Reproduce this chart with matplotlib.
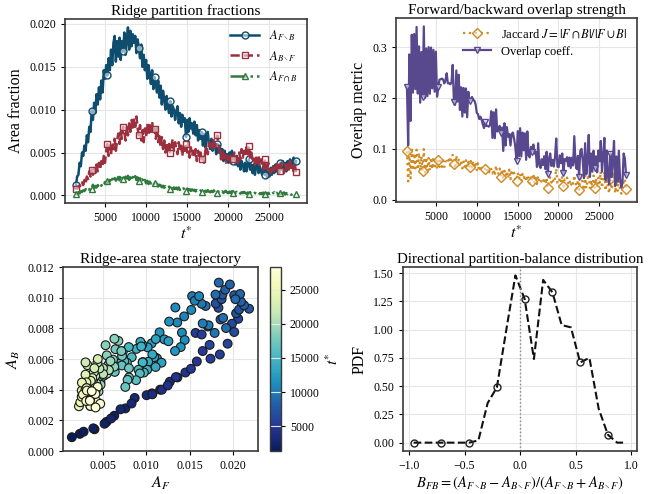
import numpy as np
import matplotlib
matplotlib.use("Agg")
import matplotlib.pyplot as plt
from matplotlib.ticker import FormatStrFormatter

plt.rcParams.update({
    "font.family": ["Liberation Serif", "DejaVu Serif"],
    "mathtext.fontset": "stix",
    "axes.edgecolor": "#3a3a3a",
    "axes.linewidth": 1.2,
    "axes.grid": True,
    "grid.color": "#e6e6e6",
    "grid.linewidth": 0.8,
    "xtick.labelsize": 8.5,
    "ytick.labelsize": 8.5,
    "xtick.major.size": 3,
    "ytick.major.size": 3,
    "axes.titlesize": 11,
    "axes.labelsize": 11.5,
})

# Simulation time window (dimensionless t*)
t_start, t_end, n_steps = 1400, 28300, 183

# Ridge partition areas, in units of 1e-4 (F\B, B\F) and 1e-5 (F∩B)
area_f_only = [
    12, 22, 24, 38, 34, 50, 46,
    58, 52, 70, 62, 80, 74, 99,
    88, 108, 96, 118, 106, 126, 112,
    134, 120, 146, 136, 152, 140, 160,
    146, 170, 152, 178, 186, 156, 180,
    162, 184, 158, 180, 168, 190, 164,
    182, 196, 170, 192, 174, 188, 178,
    186, 166, 182, 172, 160, 176, 150,
    164, 146, 158, 136, 152, 140, 130,
    146, 124, 138, 130, 120, 134, 114,
    128, 106, 122, 112, 100, 116, 104,
    96, 110, 92, 104, 100, 88, 98,
    104, 84, 96, 80, 94, 86, 90,
    68, 88, 74, 90, 78, 84, 72,
    86, 70, 82, 64, 76, 66, 74,
    58, 72, 56, 68, 74, 60, 54,
    66, 52, 62, 58, 48, 60, 50,
    58, 44, 54, 40, 52, 42, 48,
    38, 50, 42, 52, 40, 46, 36,
    46, 34, 42, 30, 40, 36, 28,
    38, 28, 36, 42, 30, 36, 26,
    36, 24, 34, 38, 26, 34, 28,
    24, 34, 24, 30, 21, 28, 22,
    32, 24, 34, 26, 36, 28, 35,
    26, 38, 30, 40, 32, 38, 28,
    40, 32, 42, 34, 40, 44, 34, 40,
]
area_b_only = [
    7, 10, 9, 12, 10, 15, 12,
    18, 14, 22, 19, 28, 22, 30,
    24, 32, 26, 36, 28, 38, 30,
    40, 34, 46, 38, 52, 60, 46,
    58, 48, 62, 54, 66, 52, 64,
    72, 60, 74, 66, 80, 75, 64,
    82, 70, 84, 74, 88, 76, 90,
    80, 92, 78, 70, 82, 64, 76,
    62, 78, 68, 84, 70, 82, 74,
    86, 72, 78, 66, 80, 62, 72,
    56, 68, 54, 64, 50, 62, 52,
    60, 50, 58, 66, 52, 62, 54,
    48, 62, 52, 58, 46, 60, 52,
    60, 50, 62, 44, 56, 46, 52,
    44, 54, 40, 52, 44, 50, 42,
    46, 38, 52, 58, 48, 62, 54,
    60, 52, 66, 56, 64, 70, 58,
    50, 42, 54, 40, 48, 38, 46,
    40, 46, 36, 48, 42, 50, 40,
    46, 38, 50, 42, 54, 44, 52,
    46, 56, 48, 58, 44, 50, 42,
    46, 36, 44, 38, 46, 34, 42,
    38, 30, 43, 34, 28, 38, 30,
    26, 34, 28, 36, 30, 38, 32,
    36, 28, 38, 30, 26, 36, 30,
    38, 30, 40, 32, 36, 28, 36, 27,
]
area_both = [
    20, 12, 36, 22, 48, 40, 58,
    50, 72, 58, 82, 66, 90, 76,
    124, 80, 110, 92, 120, 100, 128,
    112, 142, 124, 156, 132, 170, 142,
    180, 150, 192, 160, 202, 172, 190,
    214, 176, 222, 238, 190, 172, 218,
    196, 228, 180, 210, 172, 214, 186,
    224, 178, 210, 168, 200, 162, 186,
    150, 180, 140, 170, 132, 160, 138,
    150, 118, 140, 112, 136, 104, 124,
    118, 94, 112, 88, 108, 96, 84,
    102, 76, 96, 70, 92, 74, 90,
    68, 92, 62, 86, 70, 82, 60,
    50, 78, 58, 72, 52, 70, 56,
    66, 46, 62, 50, 40, 58, 44,
    56, 38, 54, 40, 60, 44, 36,
    52, 38, 58, 36, 50, 32, 44,
    50, 30, 46, 28, 44, 52, 32,
    26, 44, 28, 48, 22, 40, 30,
    42, 24, 38, 20, 36, 26, 40,
    30, 18, 34, 20, 32, 40, 22,
    16, 30, 18, 32, 38, 16, 28,
    14, 32, 16, 28, 12, 30, 18,
    34, 14, 26, 36, 12, 30, 16,
    8, 28, 14, 24, 34, 10, 26,
    14, 32, 18, 8, 12, 28, 30, 14,
]

# Histogram density of the partition balance B_FB (24 bins on [-1, 1])
balance_bin_edges = np.linspace(-1.0, 1.0, 25)
balance_pdf = [
    0.0, 0.0, 0.0, 0.0, 0.0, 0.0, 0.0, 0.02,
    0.35, 0.49, 0.99, 1.48, 1.27, 0.74, 1.44, 1.33,
    1.04, 1.02, 0.71, 0.75, 0.30, 0.07, 0.0, 0.0,
]

t = np.linspace(t_start, t_end, n_steps)
f_only = np.array(area_f_only) * 1e-4
b_only = np.array(area_b_only) * 1e-4
both = np.array(area_both) * 1e-5

a_f = f_only + both
a_b = b_only + both
jaccard = both / (f_only + b_only + both)
overlap = both / np.minimum(a_f, a_b)
centers = 0.5 * (balance_bin_edges[:-1] + balance_bin_edges[1:])

c_blue = "#0e4d6e"
c_red = "#9c2f3d"
c_green = "#2f7a3c"
c_orange = "#cf8a22"
c_purple = "#58488e"
mfc = (1, 1, 1, 0.55)
ticks_t = [5000, 10000, 15000, 20000, 25000]
legend_kw = dict(loc="upper right", frameon=False, fontsize=9, handlelength=2.3,
                 labelspacing=0.45, borderaxespad=0.35)

fig = plt.figure(figsize=(6.65, 4.94), dpi=100)
ax1 = fig.add_axes([0.0977, 0.589, 0.364, 0.3725])
ax2 = fig.add_axes([0.5955, 0.591, 0.3624, 0.3725])
ax3 = fig.add_axes([0.0947, 0.087, 0.2932, 0.3725])
cax = fig.add_axes([0.406, 0.087, 0.0165, 0.3725])
ax4 = fig.add_axes([0.606, 0.087, 0.352, 0.3725])

for ax in (ax1, ax2, ax3, ax4):
    ax.set_axisbelow(True)

# Panel 1: partition fractions
ax1.plot(t, f_only, color=c_blue, lw=1.8, marker="o", ms=5, mfc=mfc, mec=c_blue,
         markevery=13, label=r"$A_{F\setminus B}$")
ax1.plot(t, b_only, color=c_red, lw=1.8, ls="--", marker="s", ms=5, mfc=mfc, mec=c_red,
         markevery=13, label=r"$A_{B\setminus F}$")
ax1.plot(t, both, color=c_green, lw=1.8, ls="-.", marker="^", ms=5, mfc=mfc, mec=c_green,
         markevery=13, label=r"$A_{F\cap B}$")
ax1.set_title("Ridge partition fractions", pad=3)
ax1.set_xlabel(r"$t^{*}$", labelpad=2)
ax1.set_ylabel("Area fraction")
ax1.set_xticks(ticks_t)
ax1.set_yticks([0.0, 0.005, 0.010, 0.015, 0.020])
ax1.yaxis.set_major_formatter(FormatStrFormatter("%.3f"))
ax1.legend(**legend_kw)

# Panel 2: overlap metrics
ax2.plot(t, jaccard, color=c_orange, lw=1.6, ls=":", marker="D", ms=5, mfc=mfc, mec=c_orange,
         markevery=13, label=r"Jaccard $J=|F\cap B|/|F\cup B|$")
ax2.plot(t, overlap, color=c_purple, lw=1.6, marker="v", ms=5, mfc=mfc, mec=c_purple,
         markevery=13, label="Overlap coeff.")
ax2.set_title("Forward/backward overlap strength", pad=3)
ax2.set_xlabel(r"$t^{*}$", labelpad=2)
ax2.set_ylabel("Overlap metric")
ax2.set_xticks(ticks_t)
ax2.set_yticks([0.0, 0.1, 0.2, 0.3])
ax2.legend(**legend_kw)

# Panel 3: state trajectory in (A_F, A_B)
sc = ax3.scatter(a_f, a_b, c=t, cmap="YlGnBu_r", s=40, edgecolors="#1a1a1a",
                 linewidths=0.8, vmin=t_start, vmax=t_end)
ax3.set_title("Ridge-area state trajectory", pad=3)
ax3.set_xlabel(r"$A_F$", labelpad=2)
ax3.set_ylabel(r"$A_B$")
ax3.set_xticks([0.005, 0.010, 0.015, 0.020])
ax3.set_yticks([0.0, 0.002, 0.004, 0.006, 0.008, 0.010, 0.012])
ax3.set_ylim(0, 0.012)
ax3.xaxis.set_major_formatter(FormatStrFormatter("%.3f"))
ax3.yaxis.set_major_formatter(FormatStrFormatter("%.3f"))
cb = fig.colorbar(sc, cax=cax)
cb.set_label(r"$t^{*}$", fontsize=11.5)
cb.set_ticks(ticks_t)
cb.outline.set_linewidth(1.0)
cax.tick_params(labelsize=8.5)

# Panel 4: balance distribution
ax4.plot(centers, balance_pdf, color="#111111", lw=1.5, ls="--", marker="o", ms=5,
         mfc="none", mec="#222222", markevery=3)
ax4.axvline(0.0, color="#888888", lw=1.0, ls=":")
ax4.set_title("Directional partition-balance distribution", pad=3, fontsize=10.8)
ax4.set_xlabel(r"$B_{FB}=(A_{F\setminus B}-A_{B\setminus F})/(A_{F\setminus B}+A_{B\setminus F})$",
               fontsize=10.5, labelpad=2)
ax4.set_ylabel("PDF")
ax4.set_xticks([-1.0, -0.5, 0.0, 0.5, 1.0])
ax4.set_yticks([0.0, 0.25, 0.5, 0.75, 1.0, 1.25, 1.5])
ax4.yaxis.set_major_formatter(FormatStrFormatter("%.2f"))

fig.savefig("out.png", dpi=100)
